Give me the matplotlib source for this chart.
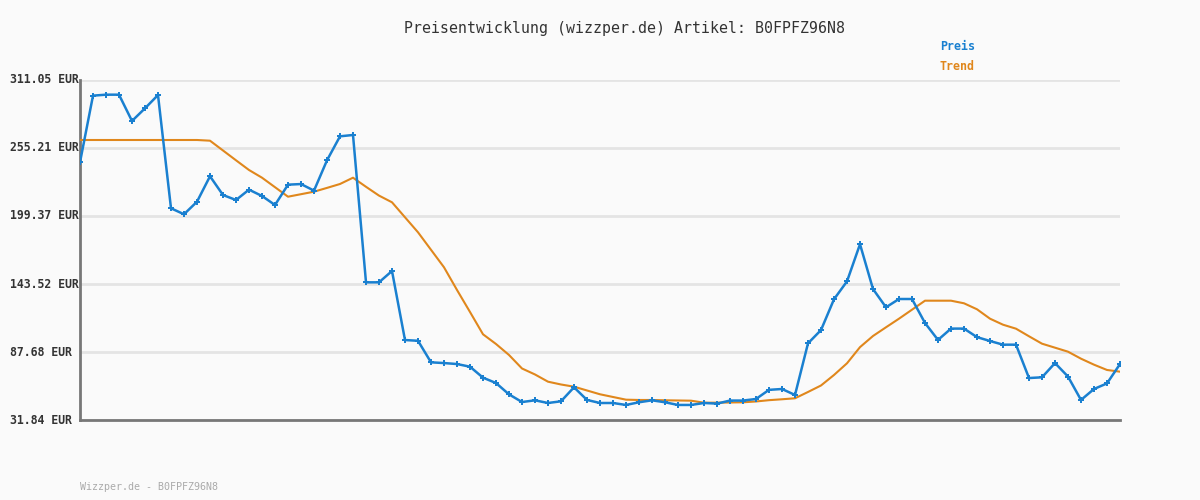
import matplotlib
matplotlib.use("Agg")
import matplotlib.pyplot as plt
import matplotlib.transforms as mtransforms

title = "Preisentwicklung (wizzper.de) Artikel: B0FPFZ96N8"
footer = "Wizzper.de - B0FPFZ96N8"
series_names = ["Preis", "Trend"]
y_ticks = [31.84, 87.68, 143.52, 199.37, 255.21, 311.05]
y_tick_labels = ["31.84 EUR", "87.68 EUR", "143.52 EUR", "199.37 EUR", "255.21 EUR", "311.05 EUR"]

preis = [243.5, 298.2, 299.0, 299.0, 277.4, 287.8, 298.7, 205.7, 200.8, 211.1,
         232.0, 216.6, 212.5, 221.0, 215.8, 208.4, 225.1, 225.6, 220.2, 245.1,
         264.8, 265.9, 144.9, 144.9, 154.2, 97.5, 96.9, 79.2, 78.6, 77.8,
         75.6, 66.6, 62.2, 52.9, 46.6, 48.0, 45.8, 47.2, 58.7, 48.3,
         45.8, 45.8, 44.2, 46.4, 48.0, 46.4, 44.2, 44.2, 45.8, 45.3,
         47.8, 47.8, 49.1, 56.6, 57.3, 52.4, 94.8, 105.7, 131.0, 145.7,
         176.2, 139.4, 124.4, 131.2, 131.2, 111.5, 97.6, 106.9, 106.9, 99.9,
         96.7, 93.7, 93.7, 66.3, 66.9, 78.6, 67.5, 48.3, 57.3, 61.9, 77.8]

trend = [261.78, 261.78, 261.78, 261.78, 261.78, 261.78, 261.78, 261.78, 261.78, 261.78,
         261.21, 253.16, 245.11, 237.14, 230.82, 223.02, 215.22, 217.27, 219.33, 222.45,
         225.65, 230.82, 223.35, 216.12, 210.62, 198.30, 185.99, 171.62, 157.25, 138.61,
         120.54, 102.23, 94.26, 85.23, 74.14, 69.22, 63.30, 61.00, 59.20, 56.08,
         52.96, 50.74, 48.53, 48.28, 48.28, 48.03, 47.87, 47.70, 46.06, 46.06,
         46.23, 46.39, 47.05, 48.12, 48.86, 49.68, 54.85, 60.19, 68.81, 78.42,
         91.67, 100.83, 107.98, 115.04, 122.43, 129.82, 129.82, 129.82, 127.68, 122.76,
         115.04, 110.11, 106.83, 100.59, 94.51, 91.23, 87.94, 82.19, 77.27, 72.92, 71.52]

BG = "#fafafa"
BLUE = "#1a80d0"
ORANGE = "#e0871c"
MONO = ["DejaVu Sans Mono"]

fig = plt.figure(figsize=(12, 5), dpi=100, facecolor=BG)
ax = fig.add_axes([80/1200, 1-420/500, 1040/1200, 340/500])
ax.set_facecolor(BG)

x = list(range(len(preis)))
ax.plot(x, trend, color=ORANGE, lw=1.5, zorder=3, solid_joinstyle="round")
ax.plot(x, preis, color=BLUE, lw=1.8, marker="P", markersize=4,
        markeredgewidth=0, zorder=4, solid_joinstyle="round")

ax.set_xlim(0, len(preis) - 1)
ax.set_ylim(y_ticks[0], y_ticks[-1])
ax.set_yticks(y_ticks)
ax.set_yticklabels([])
ax.set_xticks([])
ax.tick_params(axis="y", length=0)
ax.grid(axis="y", color="#e4e4e4", lw=2.0, zorder=0)
for s in ["top", "right"]:
    ax.spines[s].set_visible(False)
for s in ["left", "bottom"]:
    ax.spines[s].set_color("#777777")
    ax.spines[s].set_linewidth(2.0)

trans = mtransforms.blended_transform_factory(fig.transFigure, ax.transData)
for v, lab in zip(y_ticks, y_tick_labels):
    ax.text(10/1200, v, lab, transform=trans, ha="left", va="center",
            fontsize=8.3, fontweight="bold", color="#333333", family=MONO, clip_on=False)

fig.text(624/1200, 1-28/500, title, ha="center", va="center",
         fontsize=10.7, color="#333333", family=MONO)
fig.text(940/1200, 1-47/500, series_names[0], ha="left", va="center",
         fontsize=8.4, fontweight="bold", color=BLUE, family=MONO)
fig.text(940/1200, 1-67/500, series_names[1], ha="left", va="center",
         fontsize=8.4, fontweight="bold", color=ORANGE, family=MONO)
fig.text(80/1200, 1-487/500, footer, ha="left", va="center",
         fontsize=7.2, color="#aaaaaa", family=MONO)

fig.savefig("out.png", dpi=100, facecolor=BG)
